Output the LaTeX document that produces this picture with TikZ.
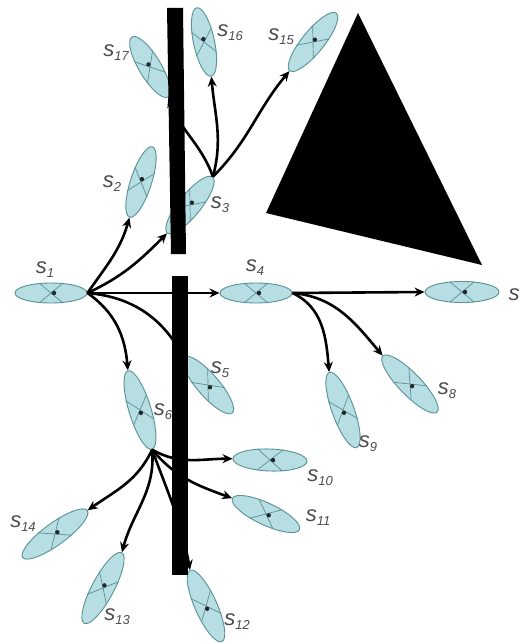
\documentclass[tikz,border=0pt]{standalone}
\usepackage{fontspec}
\setmainfont{Liberation Sans}
\usetikzlibrary{shapes.geometric,arrows.meta}
\definecolor{ellfill}{RGB}{182,222,227}
\definecolor{elledge}{RGB}{88,145,150}
\definecolor{labgray}{RGB}{75,75,80}
\newcommand\mylab[1]{\fontsize{22}{22}\selectfont\itshape s\raisebox{-0.35ex}{\fontsize{13}{13}\selectfont #1}}
\tikzset{
  ell/.style={ellipse, draw=elledge, fill=ellfill, line width=0.9pt, inner sep=0pt},
  arr/.style={line width=2.6pt, -{Stealth[length=10pt,width=9pt]}},
  lab/.style={text=labgray, inner sep=0pt},
  wall/.style={fill=black, draw=none},
  cross/.style={draw=elledge, line width=0.7pt},
}
\newcommand\ellnode[6]{%
  \node[ell, minimum width=#3pt, minimum height=#4pt, rotate=#5] (#1) at #2 {};
  \draw[cross] (#1.40) -- (#1.220);
  \draw[cross] (#1.140) -- (#1.320);
  \fill[black!85] (#1.center) ++(#6:3pt) circle (2.2pt);
}
\begin{document}
\begin{tikzpicture}[x=1pt,y=1pt]
\useasboundingbox (0,0) rectangle (521,-644);
% ellipses
\ellnode{s1}{(51,-293)}{72}{20}{0}{0}
\ellnode{s2}{(141,-182)}{74}{21}{72}{72}
\ellnode{s3}{(190,-205)}{72}{22}{51}{51}
\ellnode{s4}{(256,-293)}{72}{20}{0}{0}
\ellnode{s5}{(208,-385)}{74}{22}{-49}{-49}
\ellnode{s6}{(140,-410)}{82}{22}{-73}{-73}
\ellnode{s7}{(462,-292)}{74}{21}{0}{0}
\ellnode{s8}{(410,-384)}{78}{22}{-46}{-46}
\ellnode{s9}{(343,-410)}{80}{22}{-70}{-70}
\ellnode{s10}{(270,-460)}{74}{22}{-2}{-2}
\ellnode{s11}{(266,-514)}{74}{22}{-25}{-25}
\ellnode{s12}{(206,-606)}{78}{22}{-66}{-66}
\ellnode{s13}{(103,-588)}{80}{22}{62}{62}
\ellnode{s14}{(55,-534)}{80}{22}{36}{36}
\ellnode{s15}{(313,-42)}{74}{22}{51}{51}
\ellnode{s16}{(204,-42)}{70}{21}{102}{102}
\ellnode{s17}{(150,-67)}{70}{22}{121}{121}
% connectors
\draw[arr] (s1.east) to[out=55, in=-106] (s2.west);
\draw[arr] (s1.east) to[out=25, in=225] (s3.west);
\draw[arr] (s1.east) -- (s4.west);
\draw[arr] (s1.east) to[out=-5, in=120] (s5.west);
\draw[arr] (s1.east) to[out=-35, in=95] (s6.west);
\draw[arr] (s3.east) to[out=75, in=-85] (s16.west);
\draw[arr] (s3.east) to[out=110, in=-70] (s17.west);
\draw[arr] (s3.east) to[out=45, in=230] (s15.west);
\draw[arr] (s4.east) -- (s7.west);
\draw[arr] (s4.east) to[out=-25, in=95] (s9.west);
\draw[arr] (s4.east) to[out=-5, in=130] (s8.west);
\draw[arr] (s6.east) to[out=-30, in=180] (s10.west);
\draw[arr] (s6.east) to[out=-50, in=160] (s11.west);
\draw[arr] (s6.east) to[out=-70, in=100] (s12.west);
\draw[arr] (s6.east) to[out=-85, in=75] (s13.east);
\draw[arr] (s6.east) to[out=-115, in=35] (s14.east);
% obstacles
\path[wall] (167,-8) -- (183,-8) -- (186,-254) -- (171,-254) -- cycle;
\path[wall] (172,-276) -- (188,-276) -- (188,-575) -- (172,-575) -- cycle;
\path[wall] (358,-13) -- (266,-213) -- (482,-265) -- cycle;
% labels
\node[lab] (l1) at (45,-270) {\mylab{1}};
\node[lab] (l2) at (112,-184) {\mylab{2}};
\node[lab] (l3) at (220,-205) {\mylab{3}};
\node[lab] (l4) at (255,-268) {\mylab{4}};
\node[lab] (l5) at (220,-370) {\mylab{5}};
\node[lab] (l6) at (163,-412) {\mylab{6}};
\node[lab] (l7) at (514,-295) {\fontsize{22}{22}\selectfont\itshape s};
\node[lab] (l8) at (447,-391) {\mylab{8}};
\node[lab] (l9) at (368,-444) {\mylab{9}};
\node[lab] (l10) at (320,-478) {\mylab{10}};
\node[lab] (l11) at (318,-518) {\mylab{11}};
\node[lab] (l12) at (237,-622) {\mylab{12}};
\node[lab] (l13) at (117,-617) {\mylab{13}};
\node[lab] (l14) at (23,-524) {\mylab{14}};
\node[lab] (l15) at (281,-37) {\mylab{15}};
\node[lab] (l16) at (230,-33) {\mylab{16}};
\node[lab] (l17) at (116,-53) {\mylab{17}};
\end{tikzpicture}
\end{document}
